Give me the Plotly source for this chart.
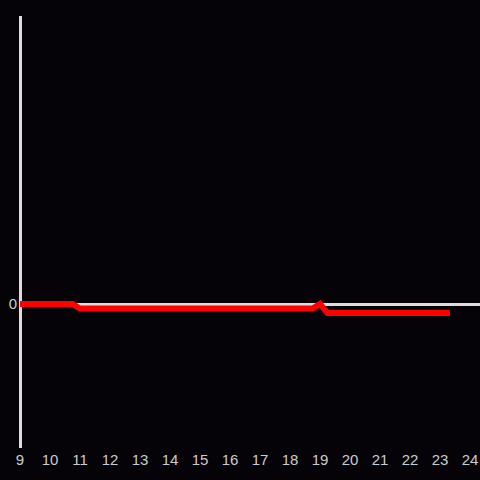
import plotly.graph_objects as go

hours = [9, 10.75, 11, 18.75, 19, 19.25, 23.33]
values = [0, 0, -1, -1, 0, -2, -2]
x_ticks = list(range(9, 25))

fig = go.Figure()
fig.add_trace(go.Scatter(x=hours, y=values, mode="lines",
                         line=dict(color="#ff0000", width=6), hoverinfo="skip"))
fig.add_shape(type="line", xref="paper", yref="paper", x0=0.5 / 460, x1=0.5 / 460,
              y0=0, y1=1, line=dict(color="#dddddd", width=3), layer="below")
fig.update_layout(
    width=480, height=480,
    paper_bgcolor="#050308", plot_bgcolor="#050308",
    margin=dict(l=20, r=0, t=16, b=32),
    showlegend=False,
    font=dict(family="Liberation Sans, Arial, sans-serif", size=15, color="#cccccc"),
    xaxis=dict(range=[9, 24 + 1 / 3], tickvals=x_ticks, ticktext=[str(t) for t in x_ticks],
               showgrid=False, zeroline=False, showline=False, ticks="", ticklen=0,
               automargin=False, ticklabelstandoff=1),
    yaxis=dict(range=[-32, 64], tickvals=[0], ticktext=["0"], showgrid=False,
               zeroline=True, zerolinecolor="#dddddd", zerolinewidth=3,
               showline=False, ticks="", automargin=False, ticklabelstandoff=2),
)
fig.write_html("out.html", config={"displayModeBar": False},
               post_script="document.body.style.margin='0';document.body.style.background='#050308';document.body.style.overflow='hidden';")
